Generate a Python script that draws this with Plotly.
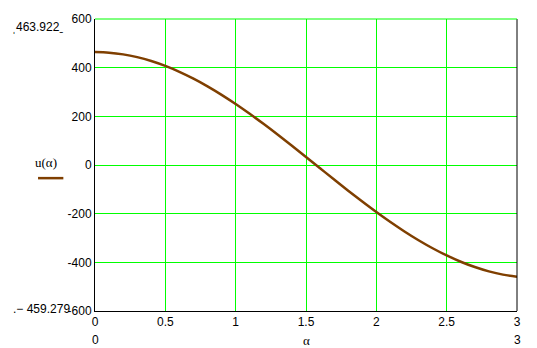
import plotly.graph_objects as go

alpha = [0.0, 0.1, 0.2, 0.3, 0.4, 0.5, 0.6, 0.7, 0.8, 0.9, 1.0, 1.1, 1.2, 1.3, 1.4,
         1.5, 1.6, 1.7, 1.8, 1.9, 2.0, 2.1, 2.2, 2.3, 2.4, 2.5, 2.6, 2.7, 2.8, 2.9, 3.0]
u = [463.9, 461.6, 454.7, 443.2, 427.3, 407.1, 382.9, 354.8, 323.2, 288.4, 250.7,
     210.4, 168.1, 124.1, 78.9, 32.8, -13.5, -59.8, -105.4, -150.0, -193.1, -234.2,
     -273.0, -309.1, -342.1, -371.7, -397.5, -419.4, -437.1, -450.5, -459.3]

x_ticks = [0, 0.5, 1, 1.5, 2, 2.5, 3]
y_ticks = [-600, -400, -200, 0, 200, 400, 600]
y_max_label = "463.922"
y_min_label = "\u2212 459.279"
series_label = "u(\u03b1)"
x_label = "\u03b1"

GREEN = "#00ff00"
BROWN = "#7f3f00"

fig = go.Figure()
fig.add_trace(go.Scatter(x=alpha, y=u, mode="lines",
                         line=dict(color=BROWN, width=2.5, shape="spline"),
                         showlegend=False, hoverinfo="skip"))

fig.update_layout(
    width=537, height=348,
    margin=dict(l=95, r=20, t=15, b=37),
    paper_bgcolor="white", plot_bgcolor="white",
    font=dict(family="Liberation Sans, Arial", size=12, color="black"),
    xaxis=dict(range=[0, 3], tickvals=x_ticks, ticktext=[str(t) for t in x_ticks],
               showgrid=True, gridcolor=GREEN, gridwidth=1,
               zeroline=False, showline=True, linecolor="black", linewidth=1,
               mirror=False, ticks="", ticklen=0),
    yaxis=dict(range=[-600, 600], tickvals=y_ticks, ticktext=[str(t) for t in y_ticks],
               showgrid=True, gridcolor=GREEN, gridwidth=1,
               zeroline=False, showline=True, linecolor="black", linewidth=1,
               ticks="", ticklen=0),
)

fig.add_shape(type="line", xref="paper", yref="paper", x0=1, x1=1, y0=0, y1=1,
              line=dict(color="black", width=1))
fig.add_shape(type="line", xref="paper", yref="paper", x0=0, x1=1, y0=1, y1=1,
              line=dict(color=GREEN, width=1))

ann = []
ann.append(dict(x=-0.07, y=1, xref="paper", yref="paper", text="\u02cc" + y_max_label + "\u02cd",
                showarrow=False, xanchor="right", yanchor="top", yshift=1,
                font=dict(size=12)))
ann.append(dict(x=-0.055, y=0, xref="paper", yref="paper", text="." + y_min_label,
                showarrow=False, xanchor="right", yanchor="middle", yshift=2,
                font=dict(size=12)))
ann.append(dict(x=0, y=0, xref="paper", yref="paper", text="0", showarrow=False,
                xanchor="center", yanchor="top", yshift=-20, font=dict(size=12)))
ann.append(dict(x=1, y=0, xref="paper", yref="paper", text="3", showarrow=False,
                xanchor="center", yanchor="top", yshift=-20, font=dict(size=12)))
ann.append(dict(x=0.5, y=0, xref="paper", yref="paper", text=x_label, showarrow=False,
                xanchor="center", yanchor="top", yshift=-20,
                font=dict(size=13, family="Liberation Serif, Times New Roman")))
ann.append(dict(x=-0.115, y=0.5, xref="paper", yref="paper", text=series_label,
                showarrow=False, xanchor="center", yanchor="middle", yshift=3,
                font=dict(size=13, family="Liberation Serif, Times New Roman")))
fig.update_layout(annotations=ann)

fig.add_shape(type="line", xref="paper", yref="paper", x0=-0.135, x1=-0.075,
              y0=0.455, y1=0.455, line=dict(color=BROWN, width=2.5))

fig.write_html("out.html")
